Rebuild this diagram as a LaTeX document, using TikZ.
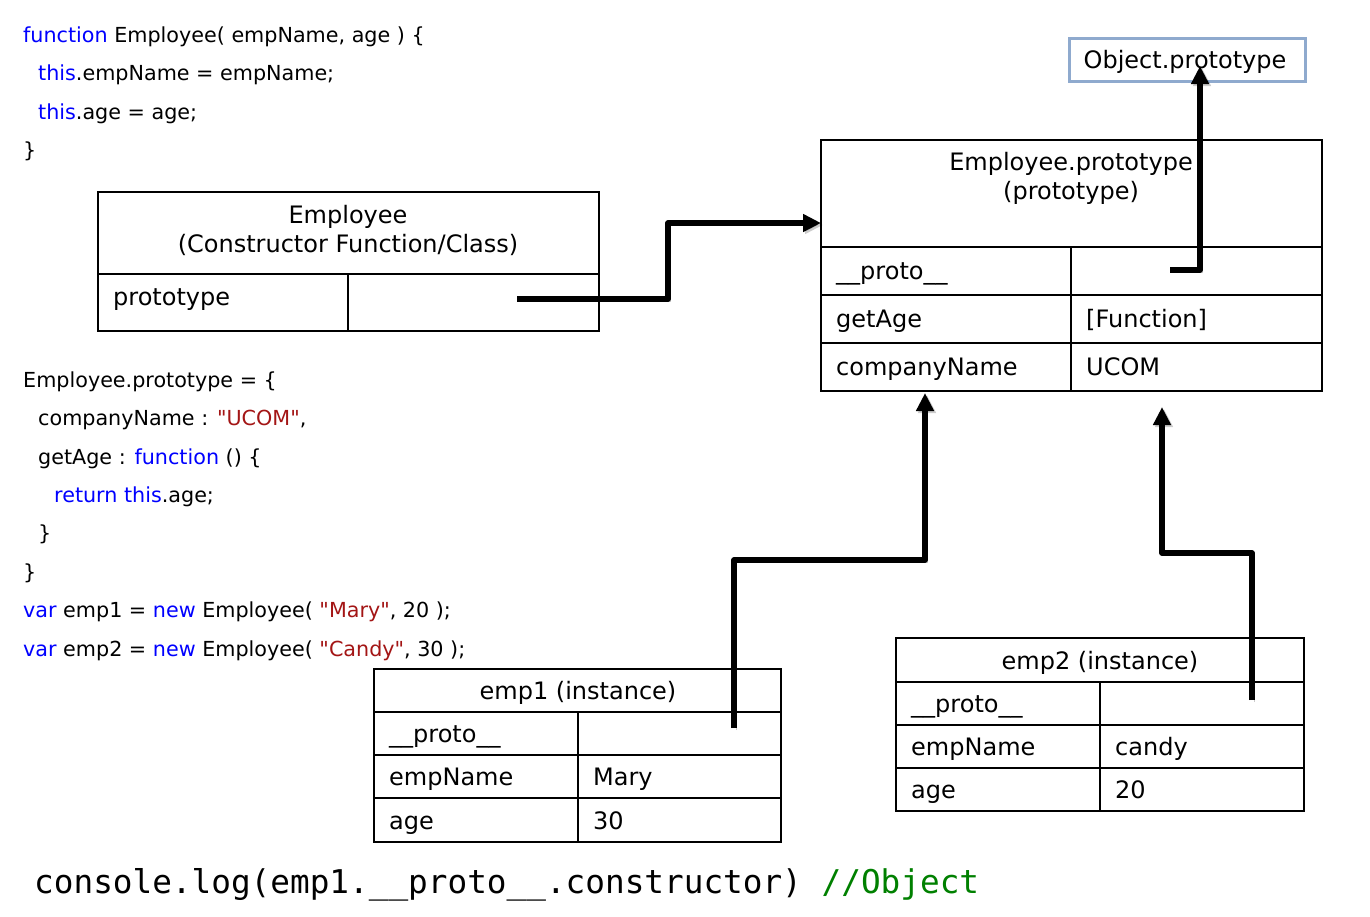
\documentclass[tikz,border=0pt]{standalone}
\usepackage{fontspec}
\setmainfont{DejaVu Sans}[Ligatures=TeXOff]
\setmonofont{DejaVu Sans Mono}
\usetikzlibrary{arrows.meta}
\definecolor{kw}{RGB}{0,0,255}
\definecolor{str}{RGB}{163,21,21}
\definecolor{cmt}{RGB}{0,128,0}
\definecolor{objblue}{RGB}{143,170,206}
\tikzset{
  cell/.style={draw, line width=2pt, anchor=north west, inner sep=0pt, outer sep=0pt},
  lbl/.style={anchor=base west, inner sep=0pt, font=\fontsize{24}{28}\selectfont},
  ctr/.style={anchor=base, inner sep=0pt, font=\fontsize{24}{28}\selectfont},
  code/.style={anchor=base west, inner sep=0pt, font=\fontsize{20.7}{25}\selectfont},
  link/.style={line width=5.5pt, -{Triangle[length=18pt,width=17pt]}, line join=round,
    preaction={draw=black, opacity=0.2, transform canvas={shift={(2pt,-2pt)}}}},
}
\begin{document}
\begin{tikzpicture}[x=1pt,y=-1pt]
\useasboundingbox (0,0) rectangle (1370,916);

% ---- code, top
\node[code] (c1) at (23,42) {{\color{kw}function} Employee( empName, age ) \{};
\node[code] (c2) at (38,80.5) {{\color{kw}this}.empName = empName;};
\node[code] (c3) at (38,119) {{\color{kw}this}.age = age;};
\node[code] (c4) at (23,157) {\}};

% ---- code, middle
\node[code] (d1) at (23,387) {Employee.prototype = \{};
\node[code] (d2) at (38,425.5) {companyName : {\color{str}"UCOM"},};
\node[code] (d3) at (38,464) {getAge : {\color{kw}function} () \{};
\node[code] (d4) at (54,502) {{\color{kw}return} {\color{kw}this}.age;};
\node[code] (d5) at (38,540.5) {\}};
\node[code] (d6) at (23,579) {\}};
\node[code] (d7) at (23,617.5) {{\color{kw}var} emp1 = {\color{kw}new} Employee( {\color{str}"Mary"}, 20 );};
\node[code] (d8) at (23,656) {{\color{kw}var} emp2 = {\color{kw}new} Employee( {\color{str}"Candy"}, 30 );};

% ---- Employee box
\node[cell, minimum width=501pt, minimum height=82pt] (eh) at (98,192) {};
\node[cell, minimum width=250pt, minimum height=57pt] (epk) at (98,274) {};
\node[cell, minimum width=251pt, minimum height=57pt] (epv) at (348,274) {};
\node[ctr] (et1) at (348,223) {Employee};
\node[ctr] (et2) at (348,252) {(Constructor Function/Class)};
\node[lbl] (ept) at (113,305) {prototype};

% ---- Employee.prototype box
\node[cell, minimum width=501pt, minimum height=107pt] (ph) at (821,140) {};
\node[cell, minimum width=250pt, minimum height=48pt] (p1k) at (821,247) {};
\node[cell, minimum width=251pt, minimum height=48pt] (p1v) at (1071,247) {};
\node[cell, minimum width=250pt, minimum height=48pt] (p2k) at (821,295) {};
\node[cell, minimum width=251pt, minimum height=48pt] (p2v) at (1071,295) {};
\node[cell, minimum width=250pt, minimum height=48pt] (p3k) at (821,343) {};
\node[cell, minimum width=251pt, minimum height=48pt] (p3v) at (1071,343) {};
\node[ctr] (pt1) at (1071,170) {Employee.prototype};
\node[ctr] (pt2) at (1071,199) {(prototype)};
\node[lbl] (pl1) at (836,279) {\_\_proto\_\_};
\node[lbl] (pl2) at (836,327) {getAge};
\node[lbl] (pl3) at (836,375) {companyName};
\node[lbl] (pv2) at (1086,327) {[Function]};
\node[lbl] (pv3) at (1086,375) {UCOM};

% ---- Object.prototype box
\node[draw=objblue, line width=3pt, anchor=north west, minimum width=236pt, minimum height=43pt, inner sep=0pt] (obj) at (1068,37) {};
\node[ctr] (objt) at (1185,68) {Object.prototype};

% ---- emp1 box
\node[cell, minimum width=407pt, minimum height=43pt] (ah) at (374,669) {};
\node[cell, minimum width=204pt, minimum height=43pt] (a1k) at (374,712) {};
\node[cell, minimum width=203pt, minimum height=43pt] (a1v) at (578,712) {};
\node[cell, minimum width=204pt, minimum height=43pt] (a2k) at (374,755) {};
\node[cell, minimum width=203pt, minimum height=43pt] (a2v) at (578,755) {};
\node[cell, minimum width=204pt, minimum height=44pt] (a3k) at (374,798) {};
\node[cell, minimum width=203pt, minimum height=44pt] (a3v) at (578,798) {};
\node[ctr] (at) at (578,699) {emp1 (instance)};
\node[lbl] (al1) at (389,742) {\_\_proto\_\_};
\node[lbl] (al2) at (389,785) {empName};
\node[lbl] (al3) at (389,829) {age};
\node[lbl] (av2) at (593,785) {Mary};
\node[lbl] (av3) at (593,829) {30};

% ---- emp2 box
\node[cell, minimum width=408pt, minimum height=44pt] (bh) at (896,638) {};
\node[cell, minimum width=204pt, minimum height=43pt] (b1k) at (896,682) {};
\node[cell, minimum width=204pt, minimum height=43pt] (b1v) at (1100,682) {};
\node[cell, minimum width=204pt, minimum height=43pt] (b2k) at (896,725) {};
\node[cell, minimum width=204pt, minimum height=43pt] (b2v) at (1100,725) {};
\node[cell, minimum width=204pt, minimum height=43pt] (b3k) at (896,768) {};
\node[cell, minimum width=204pt, minimum height=43pt] (b3v) at (1100,768) {};
\node[ctr] (bt) at (1100,669) {emp2 (instance)};
\node[lbl] (bl1) at (911,712) {\_\_proto\_\_};
\node[lbl] (bl2) at (911,755) {empName};
\node[lbl] (bl3) at (911,798) {age};
\node[lbl] (bv2) at (1115,755) {candy};
\node[lbl] (bv3) at (1115,798) {20};

% ---- console line
\node[anchor=base west, inner sep=0pt, font=\fontsize{32.7}{38}\selectfont\ttfamily] (con) at (34,893)
  {console.log(emp1.\_\_proto\_\_.constructor) {\color{cmt}//Object}};

% ---- connectors
\coordinate (s1) at (517,299);
\coordinate (t1) at (821,223);
\coordinate (s2) at (1170,270);
\coordinate (t2) at (1200,66);
\coordinate (s3) at (734,728);
\coordinate (t3) at (925,393);
\coordinate (s4) at (1252,700);
\coordinate (t4) at (1162,407);

\draw[link] (s1) -- ++(151,0) |- (t1);
\draw[link] (s2) -| (t2);
\draw[link] (s3) -- ++(0,-168) -| (t3);
\draw[link] (s4) -- ++(0,-147) -| (t4);
\end{tikzpicture}
\end{document}
